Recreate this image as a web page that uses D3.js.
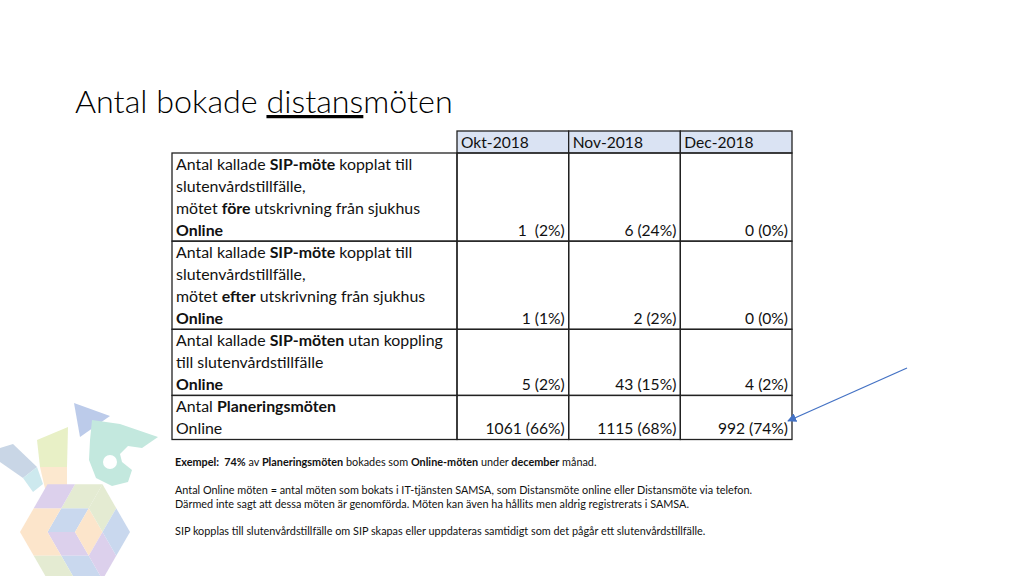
<!DOCTYPE html>
<html>
<head>
<meta charset="utf-8">
<script src="https://d3js.org/d3.v7.min.js"></script>
<style>
  body { margin: 0; background: #fff; }
  svg { display: block; font-family: Lato, "Open Sans", sans-serif; }
  text { white-space: pre; }
</style>
</head>
<body>
<svg width="1024" height="576"></svg>
<script>
// ---- data ----
var months = ["Okt-2018", "Nov-2018", "Dec-2018"];
// label lines, *bold* marked with asterisks
var rowLabels = [
  ["Antal kallade *SIP-möte* kopplat till", "slutenvårdstillfälle,", "mötet *före* utskrivning från sjukhus", "*Online*"],
  ["Antal kallade *SIP-möte* kopplat till", "slutenvårdstillfälle,", "mötet *efter* utskrivning från sjukhus", "*Online*"],
  ["Antal kallade *SIP-möten* utan koppling", "till slutenvårdstillfälle", "*Online*"],
  ["Antal *Planeringsmöten*", "Online"]
];
var counts = [
  [1, 6, 0],
  [1, 2, 0],
  [5, 43, 4],
  [1061, 1115, 992]
];
var shares = [
  [2, 24, 0],
  [1, 2, 0],
  [2, 15, 2],
  [66, 68, 74]
];
var notes = [
  "*Exempel:  74%* av *Planeringsmöten* bokades som *Online-möten* under *december* månad.",
  "",
  "Antal Online möten = antal möten som bokats i IT-tjänsten SAMSA, som Distansmöte online eller Distansmöte via telefon.",
  "Därmed inte sagt att dessa möten är genomförda. Möten kan även ha hållits men aldrig registrerats i SAMSA.",
  "",
  "SIP kopplas till slutenvårdstillfälle om SIP skapas eller uppdateras samtidigt som det pågår ett slutenvårdstillfälle."
];

var svg = d3.select("svg");
var bg = svg.append("g");
var fg = svg.append("g");

// ---- decorative logo (bottom left) ----
var logo = [
  {c: "#c9d6e6", p: [[0,448],[13,444],[37,467],[23,478],[0,462]]},
  {c: "#cde9ee", p: [[23,478],[37,467],[43,484],[33,492]]},
  {c: "#e8f0c6", p: [[37,440],[68,427],[67,467],[40,467]]},
  {c: "#fce8cf", p: [[40,467],[67,467],[67,490],[47,497]]},
  {c: "#bccbea", p: [[74,403],[110,416],[80,437]]},
  {c: "#c3e8de", p: [[92,420],[120,424],[158,437],[142,448],[128,446],[120,454],[122,462],[132,470],[128,482],[112,486],[96,478],[89,460],[90,440]]}
];
bg.selectAll("polygon.logo").data(logo).join("polygon")
  .attr("class", "logo")
  .attr("points", function(d) { return d.p.map(function(q) { return q.join(","); }).join(" "); })
  .style("fill", function(d) { return d.c; });
bg.append("circle").attr("cx", 110).attr("cy", 462).attr("r", 7).style("fill", "#fff");

// cube hexagon made of rhombi
var hexC = [75, 532], hexR = 55;
var V = d3.range(6).map(function(k) {
  var a = k * Math.PI / 3;
  return [hexC[0] + hexR * Math.cos(a), hexC[1] + hexR * Math.sin(a)];
});
var cubeColors = ["#dcd0ec", "#c9d8ee", "#fce5cb", "#e4ebd2"];
var rhombi = [];
[[1, 2, 3], [3, 4, 5], [5, 0, 1]].forEach(function(f, fi) {
  var B = V[f[0]], D = V[f[2]];
  [[0, 0], [0.5, 0], [0, 0.5], [0.5, 0.5]].forEach(function(uv, j) {
    function P(u, v) {
      return [hexC[0] + u * (B[0] - hexC[0]) + v * (D[0] - hexC[0]),
              hexC[1] + u * (B[1] - hexC[1]) + v * (D[1] - hexC[1])];
    }
    var u = uv[0], v = uv[1];
    rhombi.push({c: cubeColors[(fi + j) % 4], p: [P(u, v), P(u + 0.5, v), P(u + 0.5, v + 0.5), P(u, v + 0.5)]});
  });
});
bg.selectAll("polygon.cube").data(rhombi).join("polygon")
  .attr("class", "cube")
  .attr("points", function(d) { return d.p.map(function(q) { return q.join(","); }).join(" "); })
  .style("fill", function(d) { return d.c; });

// ---- title ----
var title = fg.append("text").attr("x", 75).attr("y", 113)
  .style("font-size", "32.3px").style("font-weight", 300).style("fill", "#000");
title.append("tspan").text("Antal bokade ");
title.append("tspan").text("distans").style("text-decoration", "underline");
title.append("tspan").text("möten");

// ---- scales ----
var nLines = d3.sum(rowLabels, function(r) { return r.length; });
var yLine = d3.scaleLinear().domain([0, nLines]).range([153, 439.5]);
var xCol = d3.scaleBand().domain(months).range([457, 792]);
var tableLeft = 172;

var rowStart = [];
var acc = 0;
rowLabels.forEach(function(r) { rowStart.push(acc); acc += r.length; });

function addRich(sel, str) {
  str.split("*").forEach(function(part, i) {
    if (part === "") return;
    sel.append("tspan").text(part).style("font-weight", i % 2 === 1 ? "bold" : "normal");
  });
}

// header
var head = fg.append("g");
head.selectAll("rect").data(months).join("rect")
  .attr("x", function(d) { return xCol(d); })
  .attr("y", 131)
  .attr("width", xCol.bandwidth())
  .attr("height", 22)
  .style("fill", "#dae3f3")
  .style("stroke", "#222").style("stroke-width", 1.3);
head.selectAll("text").data(months).join("text")
  .attr("x", function(d) { return xCol(d) + 4; })
  .attr("y", 147.5)
  .style("font-size", "15.6px").style("fill", "#111")
  .text(function(d) { return d; });

// body cells
var body = fg.append("g");
rowLabels.forEach(function(lines, r) {
  var y0 = yLine(rowStart[r]);
  var y1 = yLine(rowStart[r] + lines.length);
  body.append("rect")
    .attr("x", tableLeft).attr("y", y0)
    .attr("width", xCol.range()[0] - tableLeft).attr("height", y1 - y0)
    .style("fill", "none").style("stroke", "#222").style("stroke-width", 1.3);
  lines.forEach(function(line, i) {
    var t = body.append("text")
      .attr("x", tableLeft + 4)
      .attr("y", yLine(rowStart[r] + i) + 16.5)
      .style("font-size", "15.9px").style("fill", "#111");
    addRich(t, line);
  });
  months.forEach(function(m, c) {
    body.append("rect")
      .attr("x", xCol(m)).attr("y", y0)
      .attr("width", xCol.bandwidth()).attr("height", y1 - y0)
      .style("fill", "none").style("stroke", "#222").style("stroke-width", 1.3);
    var label = r === 0 && c === 0
      ? counts[r][c] + "  (" + shares[r][c] + "%)"
      : counts[r][c] + " (" + shares[r][c] + "%)";
    body.append("text")
      .attr("x", xCol(m) + xCol.bandwidth() - 4)
      .attr("y", yLine(rowStart[r] + lines.length - 1) + 16.5)
      .attr("text-anchor", "end")
      .style("font-size", "15.6px").style("fill", "#111")
      .text(label);
  });
});

// ---- notes ----
var noteY = [466, 480, 494, 508, 521, 535];
notes.forEach(function(n, i) {
  if (!n) return;
  var t = fg.append("text").attr("x", 175).attr("y", noteY[i])
    .style("font-size", "10.85px").style("fill", "#111");
  addRich(t, n);
});

// ---- arrow ----
svg.append("defs").append("marker")
  .attr("id", "ah").attr("viewBox", "0 0 10 10")
  .attr("refX", 9).attr("refY", 5)
  .attr("markerWidth", 7).attr("markerHeight", 7)
  .attr("orient", "auto")
  .append("path").attr("d", "M0,0 L10,5 L0,10 z").style("fill", "#4472c4");
fg.append("line")
  .attr("x1", 907).attr("y1", 368).attr("x2", 788).attr("y2", 421)
  .style("stroke", "#4472c4").style("stroke-width", 1.3)
  .attr("marker-end", "url(#ah)");
</script>
</body>
</html>
